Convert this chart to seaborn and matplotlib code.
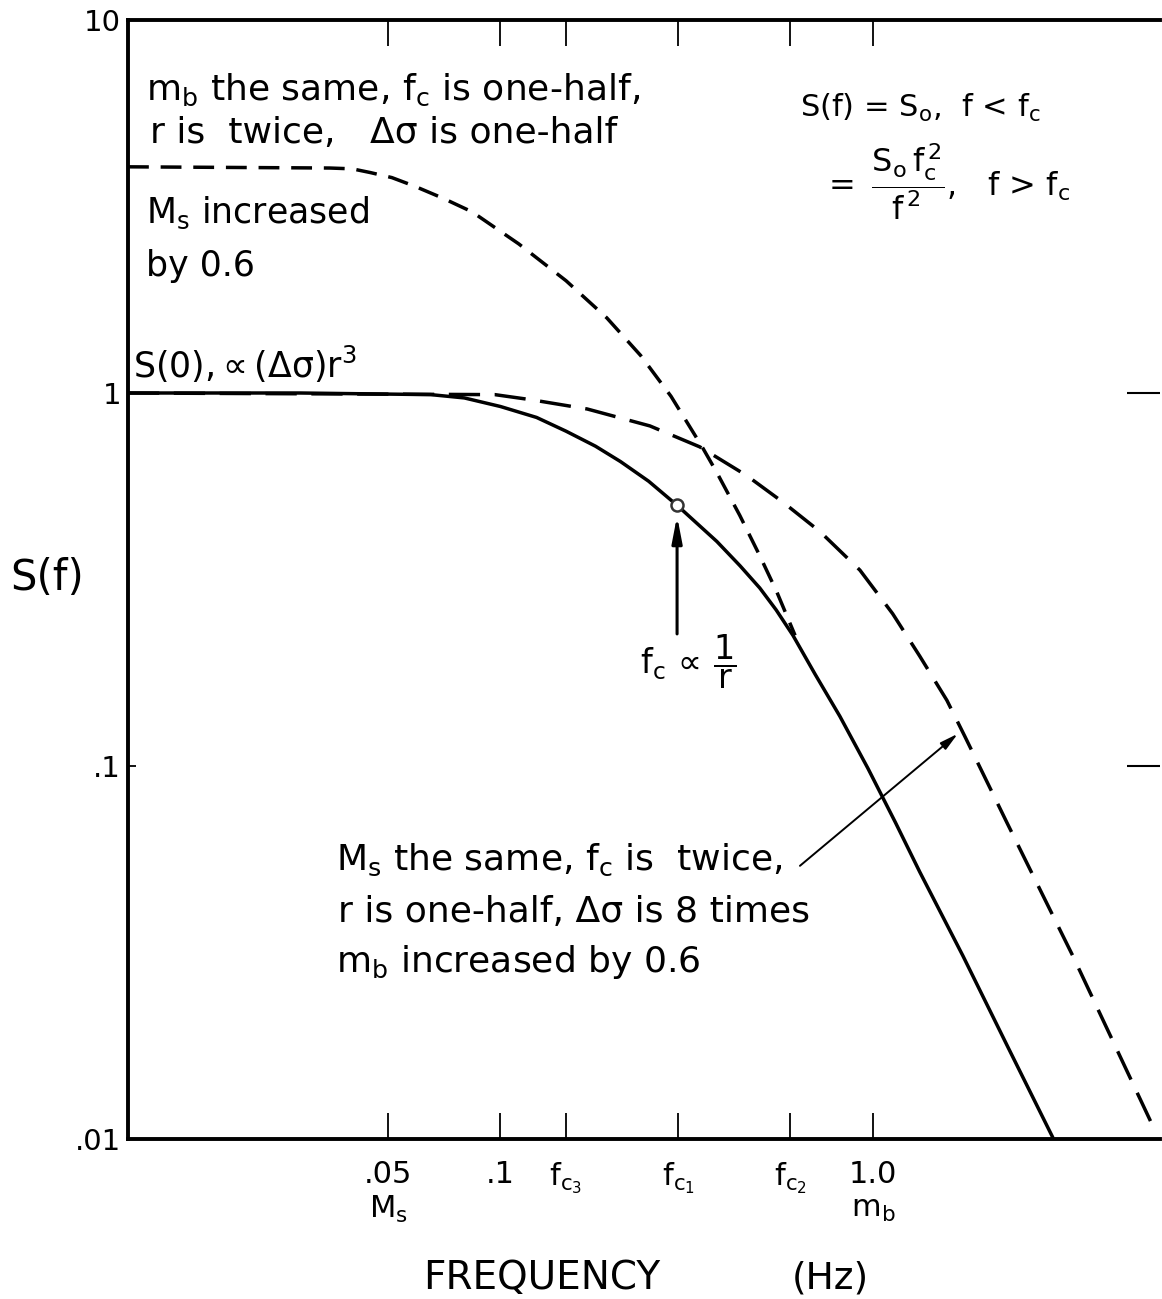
import matplotlib
matplotlib.use("Agg")
import matplotlib.pyplot as plt
from matplotlib.ticker import NullLocator, FixedLocator, FixedFormatter
import pandas as pd
import seaborn as sns

# ---------------- data ----------------
# solid curve: corner frequency f_c1
solid_f = [0.010, 0.029, 0.065, 0.080, 0.100, 0.125, 0.150, 0.180, 0.210, 0.250,
           0.298, 0.381, 0.440, 0.497, 0.550, 0.610, 0.700, 0.815, 0.970, 1.150,
           1.336, 1.744, 2.30, 3.04]
solid_S = [1.00, 1.00, 0.99, 0.97, 0.92, 0.86, 0.79, 0.72, 0.655, 0.58,
           0.50, 0.40, 0.344, 0.30, 0.262, 0.224, 0.176, 0.136, 0.0985, 0.0705,
           0.052, 0.031, 0.0177, 0.0101]

# upper dashed curve: f_c3 (one-half), S0 four times
upper_f = [0.010, 0.0348, 0.0400, 0.0447, 0.0511, 0.0586, 0.0700, 0.0839, 0.112, 0.150,
           0.193, 0.238, 0.287, 0.348, 0.381, 0.439, 0.497, 0.552, 0.618]
upper_S = [4.04, 4.01, 3.99, 3.90, 3.78, 3.59, 3.33, 3.06, 2.51, 2.00,
           1.59, 1.26, 0.98, 0.717, 0.612, 0.47, 0.366, 0.293, 0.224]

# lower dashed curve: f_c2 (twice), same S0
lower_f = [0.010, 0.0966, 0.122, 0.171, 0.252, 0.343, 0.459, 0.573, 0.721, 0.923,
           1.13, 1.336, 1.58, 1.766, 2.29, 2.86, 3.44, 5.78]
lower_S = [1.00, 0.99, 0.958, 0.906, 0.816, 0.717, 0.60, 0.51, 0.425, 0.335,
           0.256, 0.197, 0.150, 0.120, 0.0705, 0.045, 0.031, 0.0103]

# corner-frequency marker on the solid curve
marker_f = [0.298]
marker_S = [0.50]

x_ticks = [0.05, 0.1, 0.15, 0.3, 0.6, 1.0]
x_tick_labels = [".05\n$M_s$", ".1", "$f_{c_3}$", "$f_{c_1}$", "$f_{c_2}$", "1.0\n$m_b$"]
y_ticks = [0.01, 0.1, 1, 10]
y_tick_labels = [".01", ".1", "1", "10"]
right_ticks = [0.1, 1]

# ---------------- style ----------------
sns.set_theme(style="white")
plt.rcParams["font.family"] = ["DejaVu Sans"]
plt.rcParams["mathtext.default"] = "regular"
plt.rcParams["text.color"] = "black"

W, H = 1162, 1299
fig = plt.figure(figsize=(W / 100, H / 100), dpi=100)
fig.patch.set_facecolor("white")
ax = fig.add_axes([128 / W, 1 - 1139 / H, (1160 - 128) / W, (1139 - 20) / H])
ax.set_facecolor("white")

solid_df = pd.DataFrame({"f": solid_f, "S": solid_S})
upper_df = pd.DataFrame({"f": upper_f, "S": upper_S})
lower_df = pd.DataFrame({"f": lower_f, "S": lower_S})
marker_df = pd.DataFrame({"f": marker_f, "S": marker_S})

sns.lineplot(data=solid_df, x="f", y="S", ax=ax, color="black", lw=2.5,
             estimator=None, sort=False)
sns.lineplot(data=lower_df, x="f", y="S", ax=ax, color="black", lw=2.5,
             estimator=None, sort=False)
ax.lines[-1].set_dashes((9, 4.2))
sns.lineplot(data=upper_df, x="f", y="S", ax=ax, color="black", lw=2.5,
             estimator=None, sort=False)
ax.lines[-1].set_dashes((6, 3.4))
sns.scatterplot(data=marker_df, x="f", y="S", ax=ax, marker="o", s=75,
                facecolor="white", edgecolor="#333333", linewidth=1.8, zorder=5)

ax.set_xscale("log")
ax.set_yscale("log")
ax.set_xlim(0.01, 5.9)
ax.set_ylim(0.01, 10)
ax.set_xlabel("")
ax.set_ylabel("")

ax.xaxis.set_major_locator(FixedLocator(x_ticks))
ax.xaxis.set_major_formatter(FixedFormatter(x_tick_labels))
ax.xaxis.set_minor_locator(NullLocator())
ax.yaxis.set_major_locator(FixedLocator(y_ticks))
ax.yaxis.set_major_formatter(FixedFormatter(y_tick_labels))
ax.yaxis.set_minor_locator(NullLocator())

ax.tick_params(axis="x", which="major", direction="in", length=19, width=1.3,
               top=True, bottom=True, labeltop=False, pad=15, labelsize=22,
               colors="black")
ax.tick_params(axis="y", which="major", direction="in", length=6, width=1.3,
               left=True, right=False, pad=5, labelsize=21, colors="black")
for lab in ax.get_xticklabels():
    lab.set_linespacing(1.2)

for side in ["left", "bottom", "top"]:
    ax.spines[side].set_color("black")
    ax.spines[side].set_linewidth(2.8)
ax.spines["right"].set_visible(False)

# right-hand ticks at 1 and .1
ax2 = ax.twinx()
ax2.set_yscale("log")
ax2.set_ylim(0.01, 10)
ax2.yaxis.set_major_locator(FixedLocator(right_ticks))
ax2.yaxis.set_minor_locator(NullLocator())
ax2.tick_params(axis="y", direction="in", length=24, width=1.5, right=True,
                labelright=False, colors="black")
for s in ax2.spines.values():
    s.set_visible(False)

# ---------------- annotations ----------------
def fp(x, y):
    return (x / W, 1 - y / H)

fs = 26
fig.text(*fp(146, 90), "$m_b$ the same, $f_c$ is one-half,", fontsize=fs, va="center")
fig.text(*fp(150, 133), "r is  twice,   Δσ is one-half", fontsize=fs, va="center")
fig.text(*fp(146, 213), "$M_s$ increased", fontsize=25, va="center")
fig.text(*fp(146, 266), "by 0.6", fontsize=25, va="center")
fig.text(*fp(133, 364), r"S(0),$\propto$(Δσ)r$^3$", fontsize=25, va="center")

fig.text(*fp(800, 108), "S(f) = S$_o$,  f < f$_c$", fontsize=22, va="center")
fig.text(*fp(822, 182), r"$=\ \dfrac{S_o\,f_c^{\,2}}{f^{\,2}}$,   f > f$_c$",
         fontsize=23, va="center")

fig.text(*fp(640, 662), r"$f_c\,\propto\,\dfrac{1}{r}$", fontsize=24, va="center")

fig.text(*fp(336, 860), "$M_s$ the same, $f_c$ is  twice,", fontsize=fs, va="center")
fig.text(*fp(338, 912), "r is one-half, Δσ is 8 times", fontsize=fs, va="center")
fig.text(*fp(336, 962), "$m_b$ increased by 0.6", fontsize=fs, va="center")

fig.text(*fp(47, 578), "S(f)", fontsize=30, va="center", ha="center")
fig.text(*fp(542, 1278), "FREQUENCY", fontsize=28, va="center", ha="center")
fig.text(*fp(830, 1278), "(Hz)", fontsize=27, va="center", ha="center")

# arrow to the corner-frequency marker
ax.annotate("", xy=(0.298, 0.468), xytext=(0.298, 0.226),
            arrowprops=dict(arrowstyle="-|>,head_length=1.3,head_width=0.25",
                            color="black", lw=2.2, shrinkA=0, shrinkB=0))
# arrow to the lower dashed curve
ax.annotate("", xy=(1.69, 0.122), xytext=(0.637, 0.054),
            arrowprops=dict(arrowstyle="-|>,head_length=0.9,head_width=0.22",
                            color="black", lw=1.4, shrinkA=0, shrinkB=0))

fig.savefig("out.png", dpi=100, facecolor="white")
